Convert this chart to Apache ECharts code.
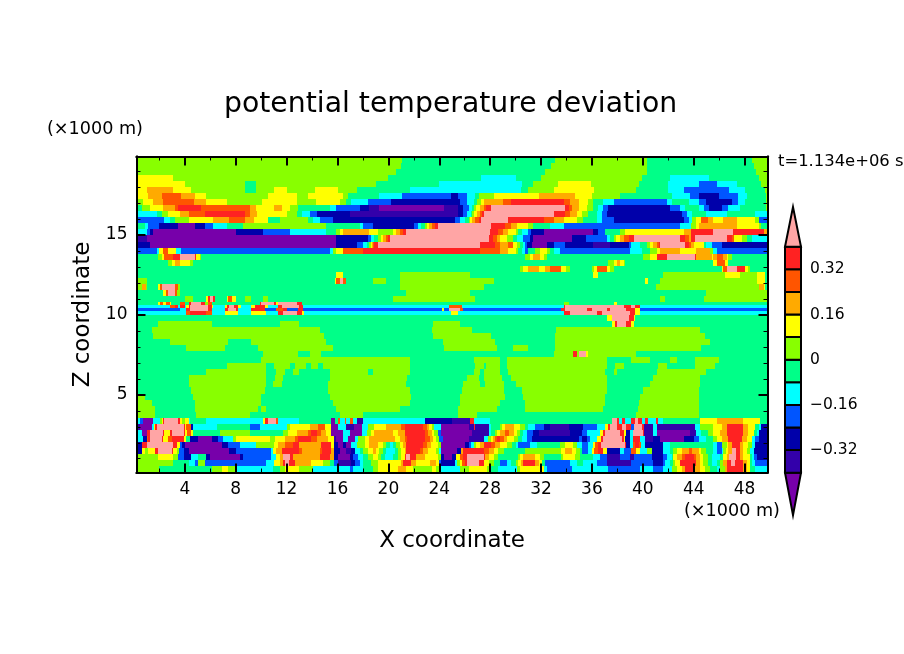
<!DOCTYPE html>
<html>
<head>
<meta charset="utf-8">
<title>potential temperature deviation</title>
<script src="https://cdn.jsdelivr.net/npm/echarts@6/dist/echarts.min.js"></script>
<style>
  html, body { margin: 0; padding: 0; background: #fff; }
  #chart { width: 904px; height: 654px; }
</style>
</head>
<body>
<div id="chart"></div>
<script>
const xRange = [0.2, 49.8];
const zRange = [0.14, 19.9];
const xMajorTicks = [4, 8, 12, 16, 20, 24, 28, 32, 36, 40, 44, 48];
const xMinorTicks = [2, 6, 10, 14, 18, 22, 26, 30, 34, 38, 42, 46];
const zMajorTicks = [5, 10, 15];
const zMinorTicks = [1, 2, 3, 4, 6, 7, 8, 9, 11, 12, 13, 14, 16, 17, 18, 19];

// one letter per shading band, lowest first
const bandKeys = "abcdefghijkl";
const bandColors = ["#7700aa", "#3300aa", "#0000aa", "#0055ff", "#00ffff", "#00ff88",
  "#88ff00", "#ffff00", "#ffaa00", "#ff5500", "#ff2222", "#ffa5a5"];
// colorbar edges, first and last are the tips of the two triangles
const colorbarEdges = [-0.55, -0.4, -0.32, -0.24, -0.16, -0.08, 0, 0.08, 0.16, 0.24, 0.32, 0.4, 0.54];
const colorbarTicks = [-0.32, -0.16, 0, 0.16, 0.32];

// row boundaries in km, top to bottom
const zEdges = [19.9, 19.52, 19.14, 18.76, 18.38, 18.0, 17.62, 17.24, 16.86, 16.48, 16.1, 15.72,
  15.34, 14.96, 14.58, 14.2, 13.82, 13.44, 13.06, 12.68, 12.3, 11.92, 11.54, 11.16, 10.78,
  10.6, 10.4, 10.22, 10.02, 9.64, 9.26, 8.88, 8.5, 8.12, 7.74, 7.36, 6.98, 6.6, 6.22, 5.84,
  5.46, 5.08, 4.7, 4.32, 3.94, 3.56, 3.18, 2.8, 2.42, 2.04, 1.66, 1.28, 0.9, 0.52, 0.14];

// each row is a list of runs: band letter + x where the run ends (km)
const fieldRows = [
  "g21.1 f33.1 g40.3 f48.6 g50",
  "g21 f32.8 g40.3 f48.7 g50",
  "g20.6 f32.3 g40.3 f48.9 g50",
  "h3.1 g20 f27.3 e30 f32 g39.9 f42.1 e45.2 f49.1 g50",
  "h4 g8.7 f9.6 g19 f24 e30.5 f31.4 g33.3 h35.9 g39.7 f42 e44.4 d45.8 e47.4 f49.3 g50",
  "h1 i3.1 h4.5 g8.7 f9.6 g11 h12 g14.2 h16 g17.5 f21.7 e30.4 f31 g33 h36.2 g39.5 f42 e43.2 d46.8 e48 f49.6 g50",
  "h1.1 i2.2 j3.7 i4.8 h5.7 g10.5 h12.8 g13.7 h16.4 g16.8 f19.3 e21.1 d24.9 c25.5 d26.2 e26.8 f27.1 g28.3 h31.8 i34.7 h36 g38.2 f42.3 e43.7 d44.4 c46 d47.5 e48.2 f49.7 g50",
  "g0.7 h1.5 i2.3 j4.7 i5.7 h7.3 g10.1 h12.8 g14.3 h16.2 g16.7 f17.1 e18.4 d20.2 c25.6 d26.2 e26.7 f27 g27.3 h27.5 i29 j29.6 k33.8 j34.3 i35 h35.7 g36.1 f36.9 e37.7 d41.9 e42.3 f43.6 e44.4 d45 c47 d47.5 e48 f49.7 g50",
  "f0.6 g1.25 h2.3 i3.2 j3.5 k5.3 j9.1 i9.6 h11 i11.6 h12.25 g12.9 f15.4 e15.9 d17.75 c18.5 b19.3 a24.4 b25.5 c25.9 d26.3 e26.6 f26.7 g26.9 h27.2 i27.5 j27.7 k28.1 l33.9 k34.2 j34.4 i35 h35.6 g36.1 f36.5 e36.9 d37.3 c42.1 d42.9 e43.3 f44.4 e44.8 d45.2 c46.2 d46.7 e47.6 f49.7 g50",
  "e1.8 f2.2 g2.7 h3.6 i4.3 j5.6 k8.7 j9.1 i9.7 h12 g12.8 f13.2 e13.8 d14.35 c17 b25.5 c25.9 d26.2 e26.5 f26.6 g26.75 h27 i27.2 j27.35 k27.5 l33 k33.9 j34.3 i34.8 h35.2 g35.7 f36.4 e36.8 d37.2 c43.1 d43.5 e43.9 f45 e46.6 f48.8 e50",
  "d2.4 e2.8 f3.2 g4.3 h6.2 i7.5 j8.7 i9.4 h10.5 f11.5 g13.7 f14.1 e14.6 d15.65 c25.25 d25.65 e26 f26.3 g26.45 h26.6 i26.8 j27.1 k27.3 l29.4 k32.2 j33 i33.8 h34.8 g35.3 f36.4 e36.8 d37.7 c43.2 d43.6 e43.9 g44.2 h44.6 j45.15 i45.5 h46.3 i47.4 h48.8 g49.1 d50",
  "f0.9 e1.1 d2 c3.5 a4.8 c5.6 d6.2 e7.3 f8.6 g15.1 f17.75 e18 d18.8 c22 d22.3 e22.6 f22.85 g23 h23.2 i23.45 j23.7 k23.9 l28.1 k29.2 j29.6 i30.1 h31 g31.4 f32.7 e33.8 d42.9 e43.8 g44.2 h44.4 i47.4 h49.1 g49.3 f50",
  "e1 d1.25 c1.5 a8.05 c10.15 d12.25 e15.1 f15.9 g16.2 h16.45 i18.5 h19.2 g20.35 h20.6 i20.9 j21.15 k21.4 l28 k28.6 j29 i29.4 h30 g30.2 f30.5 e31 d31.2 c32.2 a36.1 c36.5 d37 f38.2 g38.6 h43.2 i43.8 k45.5 l47.1 k49.5 i50",
  "b1 a15.9 c18.4 d18.65 e18.9 f19.2 g19.45 h19.6 i19.85 j20 k20.1 l27.9 k28.2 j28.5 i28.8 h29.3 g29.8 f30.1 e30.6 d31.15 c31.4 a34.4 c35.5 d37.2 e37.4 f37.7 g37.9 h38.2 i38.5 j38.9 k39.3 l42.9 k43.3 j43.6 i43.8 k44.1 l46.6 k47 j47.2 h47.8 g48.2 f48.6 e50",
  "c1.25 a15.9 c17.5 d18 e18.3 f18.5 g18.6 h18.7 i18.8 j18.9 k19.2 l27.2 k28.4 j28.8 i29.4 j29.8 h30.1 g30.35 f30.6 e30.75 d30.9 c31.3 a32.45 c33 d33.9 c36.1 b37.4 c38.9 d39.1 e39.8 f40.3 g40.6 h40.8 i41.1 j41.3 k41.35 l43.3 k43.6 j43.8 i44 h44.8 f45 e45.4 d46.2 c50",
  "d1.8 e2 h2.3 j2.7 h3.3 e3.7 d15.4 e15.65 g15.9 h16.45 j18 k27.2 j28.8 i29.4 h30 g30.2 f30.5 e30.75 d31 f31.5 g31.9 h32.45 g32.7 f33 e33.5 d39 e39.9 f40.6 g41.1 h41.35 i42.9 h44.2 i45.3 g45.5 e45.8 d50",
  "f1.9 g2.2 h2.4 j3.1 k3.6 l4.8 k4.9 h5.2 g5.3 f30.75 g31.15 h31.4 i31.9 h32.2 g32.45 f40.05 g40.6 h41.1 k41.9 l44.1 k44.2 i45.4 h45.5 i45.8 j46.3 i46.6 h46.7 g47 f50",
  "f2.7 g3 h3.2 i3.6 h4.4 g4.65 f37.3 g37.7 h38 i38.2 h38.5 g38.6 f45.5 h45.8 j46.45 h46.7 f50",
  "f30.35 g30.6 h31 i31.8 h32.3 i32.7 j33.6 h34 g34.3 f36 g36.2 h36.4 j37.2 h37.4 g37.7 f46.2 h46.3 j46.6 l47.4 k48 h48.3 g48.4 f50",
  "f15.9 h16.4 f20.9 g26.4 f36.1 h36.5 f41.6 g46.45 h47.6 g49 h49.6 f50",
  "g1 f15.8 h15.9 j16.2 l16.45 j16.7 f18.8 g19.85 f20.9 g28.3 f40.2 h40.4 f41.35 g49 h49.6 f50",
  "g0.6 i0.95 g1 f1.9 h2.05 j2.2 l3.2 j3.5 g3.6 f20.9 g27.5 f41 g49.1 i49.5 h49.6 f50",
  "f2.3 h2.5 j2.7 l3.2 j3.4 g3.6 f21.4 g26.4 f45 g50",
  "f4 g4.65 f5.7 h5.8 k6 l6.2 k6.35 f7.3 h7.4 j7.7 h8 g8.05 f8.7 g9.2 f10.15 g10.5 f20.4 g26.8 f41.35 g41.75 f44.8 g50",
  "f1.9 h2.05 j2.3 h2.5 j2.8 h2.95 f3.6 j4 f4.3 k4.5 l5.3 k5.6 g5.8 j6.1 f9.9 k10 l11 k11.2 h11.3 l12.8 k13.2 f33.8 g34.2 f37.7 h38 f50",
  "e2.8 j3.2 k3.5 e3.6 k4 e4.1 h4.3 k4.4 l5.8 k6.1 h6.2 e7.15 h7.3 k7.5 l7.9 k8.2 h8.45 e9.2 h9.5 k10.3 h10.5 e11.3 k11.6 l13 k13.3 e24.8 j25.8 e33.8 k33.9 l38.5 k39.1 l39.4 k39.8 e50",
  "d3.6 e4.1 k4.4 l5.8 k6.1 e7.15 k7.4 l8 k8.2 e9.2 k10.3 d11.2 j11.7 k12 d12.9 k13.3 d24.2 h24.4 d24.8 l25.65 j25.85 d33.6 k33.9 l35.6 k36 l37.2 k37.4 l38.7 k39.4 h39.8 d50",
  "e4.1 j4.4 k5.7 j6.1 e7.15 h8.2 e9.2 h10.4 e11.3 k11.7 l12.8 k13.2 h13.4 e24.9 h25.5 e33.8 k34.3 l36.4 k36.8 l39 k39.4 h39.8 e50",
  "f37.2 h37.6 l38.9 k39.3 h39.4 f50",
  "f1.9 g6.1 f11.5 g13 f23.5 g25.65 f37.6 h37.8 k38 l38.7 k39.1 h39.3 f50",
  "f1.4 g14.6 f23.4 g26.6 f33.2 g44.5 f50",
  "f1.5 g14.9 f23.5 g28.1 f33.1 g44.9 f50",
  "f2.8 g7.4 f9.2 g15.1 f24.3 g28.4 f33.1 g45.3 f50",
  "f4.1 g7.15 f9.75 g15.65 f24.4 g28.5 f29.8 g31 f33.1 g44.6 f50",
  "f10.15 g12.9 f13.8 g14.7 f33 g34.5 k34.8 g35 l35.5 h35.7 g39.5 f50",
  "f10 g21.7 f26.7 g28.8 f29.3 g37.2 f39.1 g40.6 f42.1 g42.7 f44.1 g46 f50",
  "f7.3 g10.4 f11 g12.25 f12.65 g13.55 f13.95 g14.5 f14.85 g21.7 f26.8 g27.5 f27.7 g28.8 f29.3 g37.2 f37.8 g38.5 f41.2 g41.9 f44.1 g45.7 f50",
  "f5.7 g10.4 f11.2 g11.85 f12.5 g13 f15.4 g18.4 f18.8 g21.7 f26.7 g27.2 f27.5 g28.8 f29.4 g37 f37.7 g38 f41.1 g45 f50",
  "f4.35 g10.4 f11.1 g11.7 f15.4 g21.5 f26.2 g27.1 f27.5 g28.9 f29.6 g37.2 f40.8 g44.5 f50",
  "f4.35 g10.4 f10.95 g11.6 f15.25 g21.4 f25.9 g27.2 f27.6 g29.05 f30 g37.2 f40.6 g44.5 f50",
  "f4.5 g10.3 f15.25 g21.7 f25.8 g29.05 f30.5 g37.2 f40.05 g44.4 f50",
  "g0.85 f4.65 g10 f15.4 g21.8 f25.65 g29.2 f30.6 g37 f39.8 g44.4 f50",
  "g1.4 f4.8 g10 f15.65 g21.7 f25.65 g28.8 f30.7 g37 f39.7 g44.4 f50",
  "g1.65 f4.8 g9.75 f10 g10.4 f15.9 g20.9 f25.5 g28.5 f30.75 g36.9 f39.65 g44.4 f50",
  "g1.65 f4.9 g9.1 f16.2 g18 f25.5 g27 f39.5 g44.4 f50",
  "e0.5 d0.75 a1.5 e2.05 g2.2 h2.3 k2.4 l3.5 k3.6 h3.8 g4 h4.3 e4.4 f5.7 e10.15 h10.3 k10.5 l11.2 j11.3 e13 f15.5 a15.8 f16 j16.2 e16.6 j16.7 e17 j17.2 e17.5 b18 e22.85 c25 b26.4 k26.7 e28 f37.6 l38 k38.1 e38.35 k38.6 e39.1 k39.4 l39.65 k39.9 e40.2 k40.4 e41 k41.2 e41.6 f44.5 h45.8 i47.9 h49.2 f50",
  "b0.5 a1.4 e1.55 h1.65 k1.8 l3.9 k4 h4.1 j4.45 c4.65 e6.5 f9.1 d9.9 e12 g12.25 h13.8 i14.5 j15 h15.5 a16 e16.7 b17.3 a17.9 e18.4 g18.9 h19.85 i21 j21.3 k22.7 j23 i23.2 h23.45 g23.6 e24.15 a26.3 b26.7 k26.8 b27.9 e28.1 f28.8 g28.9 h29.2 i29.85 h30.35 g30.75 f31 e31.5 d32.2 c32.7 b34.2 c35.3 d36.4 e37 h37.3 k37.4 l38 k38.35 l38.7 k39.1 d39.3 l39.9 k40.1 b40.8 e41.1 b44.1 e44.5 g45.5 h46.2 i46.6 k47.9 i48.3 h48.8 f49.1 e49.3 c50",
  "e0.6 a1 k1.25 l2.3 k2.4 h2.8 k3 l3.9 k4 h4.2 j4.5 h4.65 f6.75 g9.1 f11.7 g12.1 h12.8 i13.7 j13.95 k14.35 j14.7 i15.1 h15.5 a16.4 e17 a17.9 e18.3 g18.65 h18.9 i20.35 h20.75 i21.3 k22.85 j23.1 i23.4 h23.6 g23.9 d24.15 a26.6 b27.9 e28.1 f28.4 g28.5 h28.8 i29.2 j29.45 i29.85 h30.1 g30.35 f30.6 e30.9 d31.4 c31.8 b34.3 c35.2 d35.6 e36.6 h36.85 k37 l38.2 k38.5 h38.7 c39 e39.2 l40 k40.1 b40.8 e41.1 a43.7 b44.2 e44.6 f45.15 g45.5 h46.1 i46.6 k47.9 i48.3 h48.7 f49 e49.1 c50",
  "e0.75 c1 j1.1 k1.25 l2.2 k2.3 h2.7 j3 k3.9 h4.1 f4.4 c5.05 a6.1 c6.6 d7 e7.8 g8.05 h10.7 g11.1 h11.85 i12.65 j12.9 k13.95 j14.35 i15.25 h15.7 b15.9 a16.4 e16.8 a17.35 e17.6 g18.15 h18.5 i20.5 h20.9 i21.3 j21.5 k22.85 j23.25 i23.5 h23.75 g24 d24.3 a26.3 b27.5 e27.8 g28.1 h28.2 i28.4 j28.55 k28.8 j29.05 i29.3 h29.85 g30.2 f30.5 e30.9 d31.3 c35 d35.2 c35.6 d35.85 e36.4 h36.7 k36.85 l38.35 k38.5 h38.6 c39 e39.2 k39.8 e40.2 b40.8 c41.35 a43.2 c44 d44.4 e45 f45.5 g45.8 h46.2 i46.7 k47.8 i48.2 h48.55 e48.8 d49.1 c50",
  "c0.6 k1 l3.1 k3.35 h3.6 d3.75 c4 a6.9 c7.4 d8.3 e9.6 g11 h11.35 i11.85 j12.5 k13 i14.7 k15.5 h15.7 c16 a16.4 c16.7 a17.1 e17.5 g18.15 h18.5 i19.2 h19.6 g19.85 f20.1 e20.35 f20.6 g20.9 h21.15 i21.4 k22.7 j23 i23.35 h23.9 g24.15 a26 c26.3 d26.5 e26.7 g26.9 h27.2 i27.5 k28.1 j28.4 i28.8 h29.3 g29.7 f30 e30.2 d31.15 e31.7 f33.5 g33.9 h34.55 g34.8 e35.2 d35.7 e36.05 h36.25 j36.5 k36.75 l38.6 k38.7 c39 e39.2 j39.4 k39.7 j39.85 e40.2 c41.6 e42.1 f45.5 e45.8 d46.2 g46.6 h46.7 i47 k47.6 i47.9 h48.3 g48.55 e48.8 c50",
  "c0.6 h0.85 g1.1 h1.65 k1.9 l3 k3.1 h3.35 g3.55 d3.9 c4.3 a7.5 c8 d10.8 e10.95 h11.2 i11.6 k13 j13.2 i14.6 j14.8 k15.5 i15.7 c16.2 a16.7 b17.1 c17.35 e17.75 f18 g18.4 h18.8 i19.05 h19.3 g19.6 f19.85 e20.5 f20.75 g21 h21.3 i21.4 k22.45 j22.7 i23.1 h23.75 g24 e24.15 a25.4 c25.7 i25.9 k27.5 j27.9 i28.3 h28.65 g29.05 f30.75 g33.6 h33.9 i34.4 h34.75 g35.1 f35.2 d35.7 e36 h36.2 j36.5 k36.9 h37.2 c38.2 e38.5 d39.1 j39.5 h39.8 e40.3 g40.7 c41.6 e42.1 f42.4 g42.65 h43.05 i43.6 j43.85 i44.4 h44.6 g45 f45.5 e45.8 d46.2 e46.3 g46.5 h46.7 i47 l47.3 k47.6 i47.9 h48.2 g48.4 e48.7 c50",
  "g1.9 h3.1 g3.5 d3.9 c4.5 e5.05 f5.7 c6 a8.3 c8.6 d10.8 e11.2 h11.5 i11.7 l12.25 k12.5 i14.6 k15.4 i15.7 c16 a17 c17.2 d17.6 e18 f18.4 g18.8 h19.2 g19.45 f19.7 e20.35 f20.75 g21 h21.3 k21.4 l21.7 k22.2 i22.85 h23.9 g24.15 c24.4 a25 c25.3 h25.6 j25.9 k26.2 l27.5 k27.6 i27.9 h28.3 g28.65 f30.2 g30.35 h30.6 i31.5 h31.9 g32.2 f33.6 g33.75 h34.7 g35.1 f36.1 e36.6 d37.2 b38.2 d39 b39.3 d40.7 c41.6 d41.9 e42.3 f42.4 h42.65 i43.05 j43.3 k44 j44.2 i44.5 h44.75 g45.15 f45.4 e46.1 f46.3 h46.6 i46.8 l47.3 k47.6 i47.9 h48.4 f48.55 e48.7 d49 c50",
  "g3.1 f4.3 e4.8 d5.05 g5.6 d10.4 e11 h11.5 i11.7 k11.85 l12.2 k12.65 i13.95 h14.85 g15.4 f15.7 d16 b17.1 c17.35 d17.75 e18 f18.65 g19.2 h21 i21.15 k21.8 i22.2 h23.25 i23.75 h24 d24.15 c25.25 e25.4 g25.6 h25.8 j26 k26.2 l27.1 k27.5 h27.9 g28.3 f28.8 d29.3 e29.6 f30 g30.2 h30.4 i30.6 k31.5 i31.8 h32.05 f32.3 d34.3 e34.8 f35.3 e36.4 d37.2 b39.1 d40.8 c41.6 d41.75 e42.15 f42.35 g42.5 h42.9 k44.2 i44.5 h44.75 g45.15 f45.4 e45.8 f46.1 g46.3 i46.6 k46.9 l47.25 k47.9 i48.2 h48.4 f48.55 e48.8 d50",
  "g2 f6.1 g6.9 h7.4 g8 e10.95 f11.5 g11.85 h13 g14.1 e17 d17.2 e18 f18.8 g19.2 h20.75 i21.4 h21.9 g23.4 h23.75 g24.15 e25.65 g26.3 h27.75 g28.1 f28.65 e30.1 g30.35 h32.2 e32.45 d34.4 e37.3 d39.8 e40.8 d41.6 e42.3 g42.65 h43.05 i43.3 k44.1 i44.5 h44.9 g45.3 f45.8 e46.1 g46.45 i46.6 k47.9 i48.2 h48.4 f48.8 e50"
];

const FONT = "DejaVu Sans";

// runs -> [x0, x1, zTop, zBottom, band]
const fieldData = [];
fieldRows.forEach((row, r) => {
  let x0 = xRange[0];
  row.split(" ").forEach((run) => {
    const band = bandKeys.indexOf(run[0]);
    const x1 = Math.min(parseFloat(run.slice(1)), xRange[1]);
    fieldData.push([x0, x1, zEdges[r], zEdges[r + 1], band]);
    x0 = x1;
  });
});

const colorbarData = bandColors.map((c, i) => [colorbarEdges[i], colorbarEdges[i + 1], i]);

const renderField = (params, api) => {
  const p0 = api.coord([api.value(0), api.value(2)]);
  const p1 = api.coord([api.value(1), api.value(3)]);
  const x = Math.round(p0[0]);
  const y = Math.round(p0[1]);
  return {
    type: "rect",
    shape: { x, y, width: Math.round(p1[0]) - x, height: Math.round(p1[1]) - y },
    style: { fill: bandColors[api.value(4)] },
  };
};

const renderColorbar = (params, api) => {
  const low = api.value(0);
  const high = api.value(1);
  const band = api.value(2);
  const style = { fill: bandColors[band], stroke: "#000", lineWidth: 2 };
  const l = api.coord([0, low]);
  const h = api.coord([1, high]);
  if (band === 0) {
    return { type: "polygon", shape: { points: [[l[0], h[1]], [h[0], h[1]], [(l[0] + h[0]) / 2, l[1]]] }, style };
  }
  if (band === bandColors.length - 1) {
    return { type: "polygon", shape: { points: [[l[0], l[1]], [h[0], l[1]], [(l[0] + h[0]) / 2, h[1]]] }, style };
  }
  return { type: "rect", shape: { x: l[0], y: h[1], width: h[0] - l[0], height: l[1] - h[1] }, style };
};

const frameLine = { show: true, lineStyle: { color: "#000", width: 2 } };
const tickLabel = { color: "#000", fontFamily: FONT, fontSize: 17 };

const xAxis = (position, ticks, length, width, labelled) => ({
  type: "value",
  position,
  z: 5,
  min: xRange[0],
  max: xRange[1],
  splitLine: { show: false },
  axisLine: frameLine,
  axisTick: { show: true, inside: true, length, lineStyle: { color: "#000", width }, customValues: ticks },
  axisLabel: labelled ? { ...tickLabel, margin: 9, customValues: ticks } : { show: false },
});

const zAxis = (position, ticks, length, width, labelled) => ({
  type: "value",
  position,
  z: 5,
  min: zRange[0],
  max: zRange[1],
  splitLine: { show: false },
  axisLine: frameLine,
  axisTick: { show: true, inside: true, length, lineStyle: { color: "#000", width }, customValues: ticks },
  axisLabel: labelled ? { ...tickLabel, margin: 9, customValues: ticks } : { show: false },
});

const chart = echarts.init(document.getElementById("chart"));
chart.setOption({
  backgroundColor: "#fff",
  animation: false,
  title: {
    text: "potential temperature deviation",
    left: 219,
    top: 86,
    textStyle: { color: "#000", fontFamily: FONT, fontSize: 28.3, fontWeight: "normal" },
  },
  grid: [
    { left: 136.5, top: 156.5, width: 631, height: 316, show: false },
    { left: 785, top: 190.2, width: 16, height: 339, show: false },
  ],
  xAxis: [
    {
      ...xAxis("bottom", xMajorTicks, 9, 2, true),
      name: "X coordinate",
      nameLocation: "middle",
      nameGap: 57,
      nameTextStyle: { color: "#000", fontFamily: FONT, fontSize: 23 },
    },
    xAxis("top", xMajorTicks, 9, 2, false),
    xAxis("bottom", xMinorTicks, 4, 1, false),
    xAxis("top", xMinorTicks, 4, 1, false),
    { type: "value", gridIndex: 1, min: 0, max: 1, show: false },
  ],
  yAxis: [
    {
      ...zAxis("left", zMajorTicks, 9, 2, true),
      name: "Z coordinate",
      nameLocation: "middle",
      nameGap: 41,
      nameRotate: 90,
      nameTextStyle: { color: "#000", fontFamily: FONT, fontSize: 23 },
    },
    zAxis("right", zMajorTicks, 9, 2, false),
    zAxis("left", zMinorTicks, 4, 1, false),
    zAxis("right", zMinorTicks, 4, 1, false),
    {
      type: "value",
      gridIndex: 1,
      position: "right",
      min: -0.6,
      max: 0.6,
      splitLine: { show: false },
      axisLine: { show: false },
      axisTick: { show: false },
      axisLabel: {
        ...tickLabel,
        fontSize: 15.5,
        margin: 9,
        customValues: colorbarTicks,
        formatter: (v) => String(Math.round(v * 100) / 100).replace("-", "\u2212"),
      },
    },
  ],
  series: [
    {
      type: "custom",
      xAxisIndex: 0,
      yAxisIndex: 0,
      renderItem: renderField,
      data: fieldData,
      encode: { x: [0, 1], y: [2, 3] },
      silent: true,
    },
    {
      type: "custom",
      xAxisIndex: 4,
      yAxisIndex: 4,
      renderItem: renderColorbar,
      data: colorbarData,
      encode: { y: [0, 1] },
      silent: true,
    },
  ],
  graphic: [
    { type: "text", left: 47, top: 120, style: { text: "(\u00d71000 m)", fill: "#000", font: `17.6px "${FONT}"` } },
    { type: "text", left: 684, top: 502, style: { text: "(\u00d71000 m)", fill: "#000", font: `17.6px "${FONT}"` } },
    { type: "text", left: 778, top: 154, style: { text: "t=1.134e+06 s", fill: "#000", font: `16.4px "${FONT}"` } },
  ],
});
</script>
</body>
</html>
